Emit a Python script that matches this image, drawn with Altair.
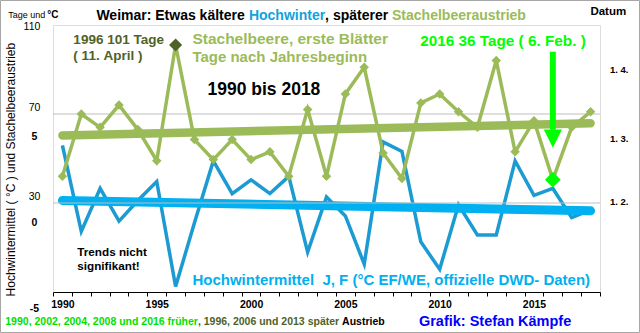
import altair as alt
import pandas as pd

# ---------------- data ----------------
years = list(range(1990, 2019))
stachelbeere_tage = [42, 70, 64, 74, 63, 49, 101, 58.5, 49.5, 58.5,
                     49.5, 53, 42, 72, 42, 79, 91, 52.5, 41, 75,
                     79, 71, 64, 94, 53, 67, 40.5, 64, 71]
hochwinter_temp = [4.6, -0.4, 2.1, 0.2, 1.4, 2.5, -3.6, 0.1, 3.7, 1.8,
                   2.6, 1.8, 2.8, -1.6, 1.6, 0.5, -2.3, 4.8, 4.25, -1.0,
                   -2.6, 1.15, -0.6, -0.6, 3.7, 1.7, 2.1, 0.4, 0.85]

x_label_years = [1990, 1995, 2000, 2005, 2010, 2015]
tage_ticks = [70, 30]
tage_top = 110
tage_grid = [70, 30]
temp_ticks = [5, 0, -5]
datum_days = [91, 60, 32]
datum_labels = ["1. 4.", "1. 3.", "1. 2."]
late_year = 1996
early_year = 2016

# ---------------- styling ----------------
GREEN = "#9BBB59"
OLIVE = "#4F6228"
BLUE_LINE = "#1B9BD1"
BLUE_TREND = "#00B0F0"
LIME = "#00FF00"
FONT = "Liberation Sans"
NBSP = "\u00a0"

BOLD_W = {' ': 278, ',': 278, '.': 278, ':': 333, 'A': 722, 'E': 667, 'H': 722,
          'S': 667, 'W': 944, 'a': 556, 'b': 611, 'c': 556, 'd': 611, 'e': 556,
          'f': 333, 'h': 611, 'i': 278, 'k': 556, 'l': 278, 'm': 889, 'n': 611,
          'o': 611, 'p': 611, 'r': 389, 's': 556, 't': 333, 'u': 611, 'w': 778,
          'ä': 556, 'ü': 611}


def bold_width(s, size):
    return sum(BOLD_W.get(ch, 556) for ch in s) / 1000.0 * size


x_scale = alt.Scale(domain=[1989.5, 2018.5], nice=False, zero=False)
tage_scale = alt.Scale(domain=[-10, 110], nice=False, zero=False)
temp_scale = alt.Scale(domain=[-3.92, 11.6], nice=False, zero=False)

tick_vals = [1989.5 + i for i in range(30)]
label_at = ",".join(str(y - 0.5) for y in x_label_years)
x_axis = alt.Axis(
    values=tick_vals,
    labelExpr=f"indexof([{label_at}], datum.value) >= 0 ? format(datum.value + 0.5, 'd') : ''",
    labelOffset=547 / 29 / 2, labelFlush=False, labelOverlap=False,
    tickSize=4, tickColor="black", domainColor="black", grid=False, title=None,
    labelFont=FONT, labelFontWeight="bold", labelFontSize=10.5, labelColor="black",
    labelPadding=3)


def X(field):
    return alt.X(field, type="quantitative", scale=x_scale, axis=x_axis)


def YT(field):
    return alt.Y(field, type="quantitative", scale=tage_scale, axis=None)


def YC(field):
    return alt.Y(field, type="quantitative", scale=temp_scale, axis=None)


def keep_spaces(s):
    # SVG collapses ordinary spaces; keep them visible
    return s.replace(" ", NBSP)


def label(text, x, y, color="black", size=12, weight="bold", align="left",
          angle=0, dx=0, dy=0, baseline="middle"):
    df = pd.DataFrame({"x": [x], "y": [y], "t": [keep_spaces(text)]})
    kw = dict(color=color, fontSize=size, fontWeight=weight, align=align,
              baseline=baseline, dx=dx, dy=dy, font=FONT)
    if angle:
        kw["angle"] = angle
    return alt.Chart(df).mark_text(**kw).encode(x=X("x"), y=YT("y"), text="t:N")


def multi_label(parts, x, y, size):
    layers = []
    off = 0.0
    for text, color in parts:
        stripped = text.lstrip(" ")
        lead = bold_width(text[:len(text) - len(stripped)], size)
        layers.append(label(stripped, x, y, color=color, size=size, dx=off + lead))
        off += bold_width(text, size)
    return layers


green_df = pd.DataFrame({"year": years, "tage": stachelbeere_tage})
temp_df = pd.DataFrame({"year": years, "temp": hochwinter_temp})

# ---------------- temperature layer ----------------
blue_line = alt.Chart(temp_df).mark_line(color=BLUE_LINE, strokeWidth=3.5).encode(
    x=X("year"), y=YC("temp"))
blue_trend = alt.Chart(temp_df).transform_regression("year", "temp").mark_line(
    color=BLUE_TREND, strokeWidth=9, strokeCap="round").encode(x=X("year"), y=YC("temp"))
temp_lab_df = pd.DataFrame({"x": [1988.51] * 3, "temp": temp_ticks,
                            "t": [str(v) for v in temp_ticks]})
temp_labels = alt.Chart(temp_lab_df).mark_text(
    font=FONT, fontWeight="bold", fontSize=10.5, align="center", baseline="middle", dy=-2
).encode(x=X("x"), y=YC("temp"), text="t:N")
temp_layer = alt.layer(blue_line, blue_trend, temp_labels)

# ---------------- Tage layer ----------------
grid = alt.Chart(pd.DataFrame({"g": tage_grid})).mark_rule(
    color="#BFBFBF", strokeWidth=1).encode(y=YT("g"))
green_line = alt.Chart(green_df).mark_line(color=GREEN, strokeWidth=3.5).encode(
    x=X("year"), y=YT("tage"))
green_trend = alt.Chart(green_df).transform_regression("year", "tage").mark_line(
    color=GREEN, strokeWidth=8.5, strokeCap="round").encode(x=X("year"), y=YT("tage"))
green_pts = alt.Chart(green_df).transform_filter(
    (alt.datum.year != late_year) & (alt.datum.year != early_year)
).mark_point(shape="diamond", filled=True, size=90, color=GREEN, opacity=1).encode(
    x=X("year"), y=YT("tage"))
late_pt = alt.Chart(green_df).transform_filter(alt.datum.year == late_year).mark_point(
    shape="diamond", filled=True, size=170, color=OLIVE, opacity=1).encode(
    x=X("year"), y=YT("tage"))
early_pt = alt.Chart(green_df).transform_filter(alt.datum.year == early_year).mark_point(
    shape="diamond", filled=True, size=250, color=LIME, opacity=1).encode(
    x=X("year"), y=YT("tage"))

arrow_df = pd.DataFrame({"year": [early_year], "top": [98], "bottom": [63], "head": [58.9]})
arrow_shaft = alt.Chart(arrow_df).mark_rule(color=LIME, strokeWidth=6).encode(
    x=X("year"), y=YT("top"), y2="bottom")
arrow_head = alt.Chart(arrow_df).mark_point(
    shape="M-1,-1L1,-1L0,1Z", filled=True, size=330, color=LIME, opacity=1).encode(
    x=X("year"), y=YT("head"))

tage_lab_df = pd.DataFrame({"x": [1988.83] * len(tage_ticks), "y": tage_ticks,
                            "t": [str(v) for v in tage_ticks]})
tage_labels = alt.Chart(tage_lab_df).mark_text(
    font=FONT, fontSize=10.5, align="right", baseline="middle", dy=-6
).encode(x=X("x"), y=YT("y"), text="t:N")
tage_top_label = label(str(tage_top), 1988.83, tage_top, size=10.5, weight="normal",
                       align="right", dy=2)

datum_df = pd.DataFrame({"x": [2019.52] * 3, "y": datum_days, "t": datum_labels})
datum_text = alt.Chart(datum_df).mark_text(
    font=FONT, fontSize=9.5, fontWeight="bold", align="center", baseline="middle", dy=3
).encode(x=X("x"), y=YT("y"), text="t:N")

texts = [
    label("1996 101 Tage", 1990.58, 103.1, color=OLIVE, size=13.5),
    label("( 11. April )", 1990.58, 96.2, color=OLIVE, size=13.5),
    label("Stachelbeere, erste Blätter", 1996.89, 103.7, color=GREEN, size=15.5),
    label("Tage nach Jahresbeginn", 1996.89, 95.6, color=GREEN, size=15),
    label("1990 bis 2018", 1997.69, 80.9, size=17.5),
    label("2016 36 Tage ( 6. Feb. )", 2008.97, 102.6, color=LIME, size=15.3),
    label("Trends nicht", 1990.79, 8.1, size=11.7),
    label("signifikant!", 1990.79, 1.5, size=11.7),
    label("Hochwintermittel  J, F (°C EF/WE, offizielle DWD- Daten)", 1996.89, -4.5,
          color=BLUE_TREND, size=15),
    label("Hochwintermittel ( °C ) und Stachelbeeraustrieb", 1987.29, 45.0, size=12,
          weight="normal", align="center", angle=270),
    label("Datum", 2018.94, 116.0, size=11.5, align="center"),
    label("Grafik: Stefan Kämpfe", 2008.9, -23.3, color="#0000FF", size=14.5),
]
texts += multi_label([("Weimar: Etwas kältere ", "black"), ("Hochwinter", "#12A2DB"),
                      (", späterer ", "black"), ("Stachelbeeraustrieb", GREEN)],
                     1991.8, 114.2, 14)
texts += multi_label([("1990, 2002, 2004, 2008 und 2016 früher", "#00E000"),
                      (", 1996, 2006 und 2013 später", OLIVE),
                      (" Austrieb", "black")],
                     1986.97, -23.3, 10.5)
texts.append(label("Tage und", 1987.13, 114.6, size=9, weight="normal"))
texts.append(label("°C", 1987.13, 114.6, size=10, dx=39))

border = alt.Chart(pd.DataFrame({"a": [0]})).mark_rect(
    fillOpacity=0, stroke="#A6A6A6", strokeWidth=1).encode(
    x=alt.value(-52.5), x2=alt.value(586.5), y=alt.value(-24.5), y2=alt.value(307.5))

tage_layer = alt.layer(grid, green_line, green_trend, green_pts, late_pt, early_pt,
                       arrow_shaft, arrow_head, tage_labels, tage_top_label, datum_text,
                       *texts, border)

chart = alt.layer(temp_layer, tage_layer).resolve_scale(y="independent").properties(
    width=547, height=267,
    autosize=alt.AutoSizeParams(type="none"),
    padding={"left": 53, "top": 25, "right": 40, "bottom": 41},
    background="white",
).configure_view(stroke="black", strokeWidth=1).configure(font=FONT)

chart.save("out.html", embed_options={"renderer": "svg", "actions": False})
